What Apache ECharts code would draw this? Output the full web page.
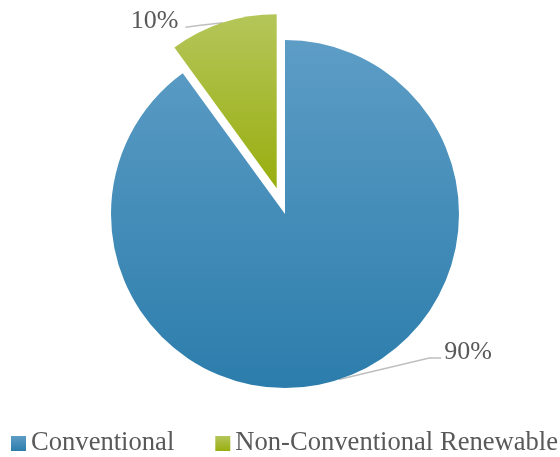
<!DOCTYPE html>
<html><head><meta charset="utf-8">
<script src="https://cdn.jsdelivr.net/npm/echarts@6/dist/echarts.min.js"></script>
<style>html,body{margin:0;padding:0;background:#fff}#c{width:560px;height:457px}</style>
</head><body><div id="c"></div>
<script>
const categories = ['Conventional', 'Non-Conventional Renewable'];
const values = [90, 10];
const colorStops = [['#5d9dc6', '#2c7dac'], ['#b5c65a', '#98ae0e']];
const labelShift = [{dx: 78, dy: -35}, {dx: -17, dy: 6}];

const chart = echarts.init(document.getElementById('c'), null, {renderer: 'canvas'});
const grad = (c) => new echarts.graphic.LinearGradient(0, 0, 0, 1, [{offset: 0, color: c[0]}, {offset: 1, color: c[1]}]);
chart.setOption({
  animation: false,
  legend: {
    left: 11, top: 430, padding: 0,
    width: 560,
    itemWidth: 15, itemHeight: 15, itemGap: 41,
    icon: 'rect',
    textStyle: {fontFamily: 'Liberation Serif', fontSize: 26.6, color: '#595959'},
    data: categories
  },
  series: [{
    type: 'pie',
    center: [285, 214],
    radius: 174,
    startAngle: 90,
    clockwise: true,
    selectedMode: 'single',
    selectedOffset: 27,
    label: {
      show: true,
      formatter: '{d}%',
      fontFamily: 'Liberation Serif', fontSize: 26, color: '#595959'
    },
    labelLine: {length: 8, length2: 20, lineStyle: {color: '#bfbfbf', width: 1.5}},
    labelLayout: (p) => {
      const s = labelShift[p.dataIndex];
      const r = p.labelRect;
      const x = r.x + s.dx, y = r.y + s.dy, cy = y + r.height / 2;
      const start = p.labelLinePoints ? p.labelLinePoints[0] : [x, cy];
      const pts = p.dataIndex === 0
        ? [start, [x - 15, cy + 6], [x - 3, cy + 6]]
        : [start, [x + r.width + 22, cy + 4], [x + r.width + 7, cy + 6]];
      return {dx: s.dx, dy: s.dy, labelLinePoints: pts};
    },
    data: categories.map((n, i) => ({
      name: n, value: values[i], selected: i === 1,
      itemStyle: {color: grad(colorStops[i])}
    }))
  }]
});
</script></body></html>
